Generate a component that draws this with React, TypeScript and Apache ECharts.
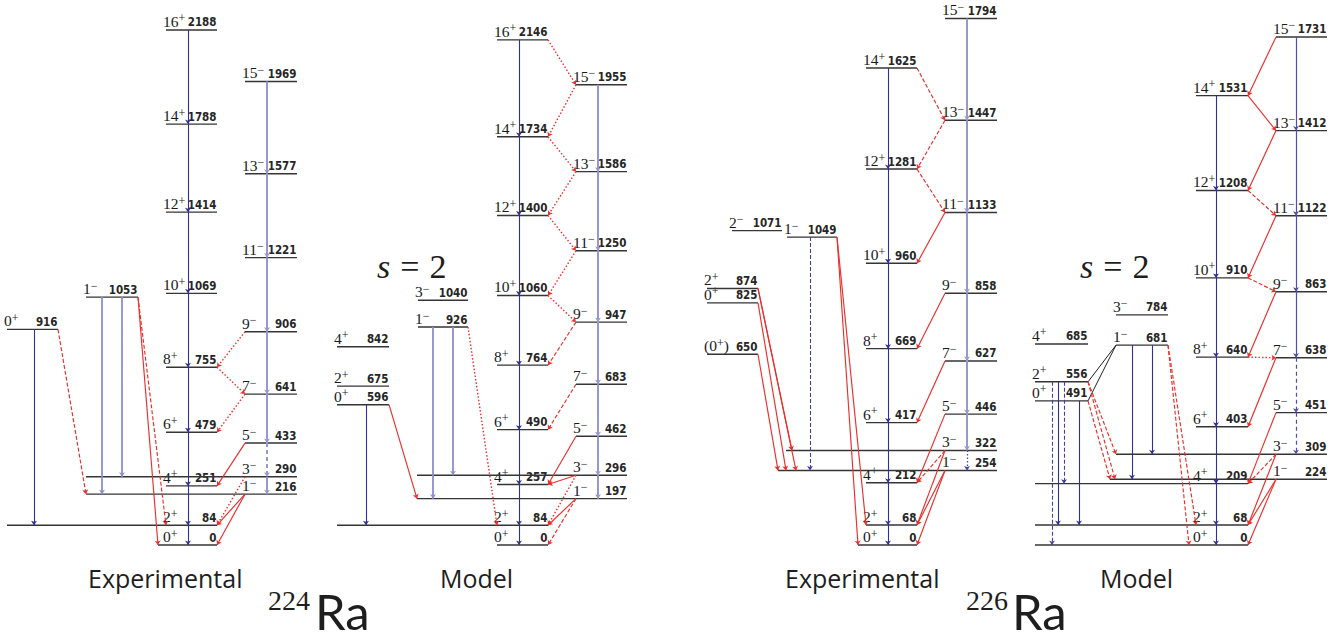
import React, { useEffect, useRef } from 'react';
import * as echarts from 'echarts';

// [spin/parity, energy in keV, column]
type Level = [string, number, string];
// [from energy, to energy, transition kind]
type Transition = [number, number, string];

// ---------- 224Ra, experimental ----------
const RA224_EXP_LEVELS: Level[] = [
  ['0+', 0, 'g'], ['2+', 84, 'g'], ['4+', 251, 'g'], ['6+', 479, 'g'], ['8+', 755, 'g'],
  ['10+', 1069, 'g'], ['12+', 1414, 'g'], ['14+', 1788, 'g'], ['16+', 2188, 'g'],
  ['1-', 216, 'n'], ['3-', 290, 'n'], ['5-', 433, 'n'], ['7-', 641, 'n'], ['9-', 906, 'n'],
  ['11-', 1221, 'n'], ['13-', 1577, 'n'], ['15-', 1969, 'n'],
  ['0+', 916, 'a'], ['1-', 1053, 'b'],
];
const RA224_EXP_TRANSITIONS: Transition[] = [
  [2188, 1788, 'gsb'], [1788, 1414, 'gsb'], [1414, 1069, 'gsb'], [1069, 755, 'gsb'],
  [755, 479, 'gsb'], [479, 251, 'gsb'], [251, 84, 'gsb'], [84, 0, 'gsb'],
  [1969, 1577, 'neg'], [1577, 1221, 'neg'], [1221, 906, 'neg'], [906, 641, 'neg'],
  [641, 433, 'neg'], [433, 290, 'negDash'], [290, 216, 'neg'],
  [916, 84, 'vDark'], [1053, 216, 'vLight'], [1053, 290, 'vLight'],
  [916, 216, 'redDash'], [1053, 0, 'red'], [1053, 84, 'redDash'],
  [906, 755, 'redDot'], [755, 641, 'redDot'], [641, 479, 'redDot'], [433, 251, 'red'],
  [290, 84, 'redDot'], [216, 84, 'red'], [216, 0, 'red'],
];

// ---------- 224Ra, model ----------
const RA224_MODEL_LEVELS: Level[] = [
  ['0+', 0, 'g'], ['2+', 84, 'g'], ['4+', 257, 'g'], ['6+', 490, 'g'], ['8+', 764, 'g'],
  ['10+', 1060, 'g'], ['12+', 1400, 'g'], ['14+', 1734, 'g'], ['16+', 2146, 'g'],
  ['1-', 197, 'n'], ['3-', 296, 'n'], ['5-', 462, 'n'], ['7-', 683, 'n'], ['9-', 947, 'n'],
  ['11-', 1250, 'n'], ['13-', 1586, 'n'], ['15-', 1955, 'n'],
  ['0+', 596, 'a'], ['2+', 675, 'a'], ['4+', 842, 'a'], ['1-', 926, 'b'], ['3-', 1040, 'b'],
];
const RA224_MODEL_TRANSITIONS: Transition[] = [
  [2146, 1734, 'gsb'], [1734, 1400, 'gsb'], [1400, 1060, 'gsb'], [1060, 764, 'gsb'],
  [764, 490, 'gsb'], [490, 257, 'gsb'], [257, 84, 'gsb'], [84, 0, 'gsb'],
  [1955, 1586, 'neg'], [1586, 1250, 'neg'], [1250, 947, 'neg'], [947, 683, 'neg'],
  [683, 462, 'neg'], [462, 296, 'neg'], [296, 197, 'neg'],
  [596, 84, 'vDark'], [926, 197, 'vLight'], [926, 296, 'vLight'],
  [596, 197, 'red'], [926, 84, 'redDot'],
  [2146, 1955, 'redDot'], [1955, 1734, 'redDot'], [1734, 1586, 'redDot'], [1586, 1400, 'redDot'],
  [1400, 1250, 'redDot'], [1250, 1060, 'redDot'], [1060, 947, 'redDot'], [947, 764, 'redDash'],
  [683, 490, 'redDash'], [462, 257, 'red'], [296, 257, 'red'], [296, 84, 'redDot'],
  [197, 84, 'red'], [197, 0, 'redDash'],
];

// ---------- 226Ra, experimental ----------
const RA226_EXP_LEVELS: Level[] = [
  ['0+', 0, 'g'], ['2+', 68, 'g'], ['4+', 212, 'g'], ['6+', 417, 'g'], ['8+', 669, 'g'],
  ['10+', 960, 'g'], ['12+', 1281, 'g'], ['14+', 1625, 'g'],
  ['1-', 254, 'n'], ['3-', 322, 'n'], ['5-', 446, 'n'], ['7-', 627, 'n'], ['9-', 858, 'n'],
  ['11-', 1133, 'n'], ['13-', 1447, 'n'], ['15-', 1794, 'n'],
  ['(0+)', 650, 'a'], ['0+', 825, 'a'], ['2+', 874, 'a'], ['2-', 1071, 'c'], ['1-', 1049, 'b'],
];
const RA226_EXP_TRANSITIONS: Transition[] = [
  [1625, 1281, 'gsb'], [1281, 960, 'gsb'], [960, 669, 'gsb'], [669, 417, 'gsb'],
  [417, 212, 'gsb'], [212, 68, 'gsb'], [68, 0, 'gsb'],
  [1794, 1447, 'neg'], [1447, 1133, 'neg'], [1133, 858, 'neg'], [858, 627, 'neg'],
  [627, 446, 'neg'], [446, 322, 'neg'], [322, 254, 'negDot'],
  [1049, 254, 'vDash'],
  [650, 254, 'red'], [825, 254, 'red'], [874, 322, 'red'], [874, 254, 'red'],
  [1049, 0, 'red'], [1049, 68, 'red'],
  [1625, 1447, 'redDash'], [1447, 1281, 'redDash'], [1281, 1133, 'redDash'], [1133, 960, 'red'],
  [858, 669, 'red'], [627, 417, 'red'], [446, 212, 'red'], [322, 212, 'redDash'],
  [322, 68, 'red'], [254, 68, 'red'], [254, 0, 'red'],
];

// ---------- 226Ra, model ----------
const RA226_MODEL_LEVELS: Level[] = [
  ['0+', 0, 'g'], ['2+', 68, 'g'], ['4+', 209, 'g'], ['6+', 403, 'g'], ['8+', 640, 'g'],
  ['10+', 910, 'g'], ['12+', 1208, 'g'], ['14+', 1531, 'g'],
  ['1-', 224, 'n'], ['3-', 309, 'n'], ['5-', 451, 'n'], ['7-', 638, 'n'], ['9-', 863, 'n'],
  ['11-', 1122, 'n'], ['13-', 1412, 'n'], ['15-', 1731, 'n'],
  ['0+', 491, 'a'], ['2+', 556, 'a'], ['4+', 685, 'a'], ['1-', 681, 'b'], ['3-', 784, 'b'],
];
const RA226_MODEL_TRANSITIONS: Transition[] = [
  [1531, 1208, 'gsb'], [1208, 910, 'gsb'], [910, 640, 'gsb'], [640, 403, 'gsb'],
  [403, 209, 'gsb'], [209, 68, 'gsb'], [68, 0, 'gsb'],
  [1731, 1412, 'negD'], [1412, 1122, 'negD'], [1122, 863, 'negD'], [863, 638, 'negD'],
  [638, 451, 'negDDash'], [451, 309, 'negDDash'],
  [556, 0, 'vDash'], [556, 68, 'vDark'], [556, 209, 'vDash'], [491, 68, 'vDark'],
  [681, 224, 'vDark'], [681, 309, 'vDark'],
  [681, 556, 'black'], [681, 491, 'black'],
  [556, 309, 'redDash'], [491, 224, 'redDash'], [556, 224, 'redDash'],
  [681, 0, 'redDash'], [681, 68, 'redDash'],
  [1731, 1531, 'red'], [1531, 1412, 'red'], [1412, 1208, 'red'], [1208, 1122, 'redDash'],
  [1122, 910, 'red'], [910, 863, 'redDash'], [863, 640, 'red'], [640, 638, 'redDot'],
  [638, 403, 'red'], [451, 209, 'red'], [309, 209, 'redDash'], [309, 68, 'red'],
  [224, 68, 'red'], [224, 0, 'red'],
];

// ---------- horizontal layout of each scheme (page pixels) ----------
interface PanelLayout {
  cols: Record<string, [number, number]>;
  lineFrom: Record<number, number>;
  bandX: Record<string, number>;
  vx: Record<string, number>;
  nudge: Record<string, number>;
}

const RA224_EXP_LAYOUT: PanelLayout = {
  cols: { g: [166, 217], n: [245, 297], a: [7, 58], b: [86, 138] },
  lineFrom: { 84: 7, 290: 86, 216: 86, 0: 158 },
  bandX: { g: 188, n: 267 },
  vx: { '916>84': 34, '1053>216': 102, '1053>290': 122 },
  nudge: {},
};
const RA224_MODEL_LAYOUT: PanelLayout = {
  cols: { g: [497, 548], n: [576, 627], a: [337, 389], b: [418, 468] },
  lineFrom: { 84: 337, 296: 417, 197: 417 },
  bandX: { g: 519, n: 598 },
  vx: { '596>84': 366, '926>197': 433, '926>296': 453 },
  nudge: {},
};
const RA226_EXP_LAYOUT: PanelLayout = {
  cols: { g: [866, 917], n: [945, 997], a: [707, 758], c: [732, 782], b: [787, 837] },
  lineFrom: { 322: 786, 254: 778, 0: 858 },
  bandX: { g: 888, n: 967 },
  vx: { '1049>254': 810 },
  nudge: { '825>254': 8, '874>322': 6, '874>254': 18 },
};
const RA226_MODEL_LAYOUT: PanelLayout = {
  cols: { g: [1196, 1248], n: [1276, 1327], a: [1035, 1088], b: [1116, 1168] },
  lineFrom: { 0: 1035, 68: 1035, 209: 1035, 309: 1116, 224: 1110 },
  bandX: { g: 1216, n: 1296 },
  vx: { '556>0': 1052, '556>68': 1058, '556>209': 1064, '491>68': 1079, '681>224': 1132, '681>309': 1152 },
  nudge: { '556>224': 5, '681>0': -7 },
};

const PANELS = [
  { levels: RA224_EXP_LEVELS, transitions: RA224_EXP_TRANSITIONS, layout: RA224_EXP_LAYOUT, axis: 0 },
  { levels: RA224_MODEL_LEVELS, transitions: RA224_MODEL_TRANSITIONS, layout: RA224_MODEL_LAYOUT, axis: 0 },
  { levels: RA226_EXP_LEVELS, transitions: RA226_EXP_TRANSITIONS, layout: RA226_EXP_LAYOUT, axis: 1 },
  { levels: RA226_MODEL_LEVELS, transitions: RA226_MODEL_TRANSITIONS, layout: RA226_MODEL_LAYOUT, axis: 1 },
];

// energy axes: keV range and pixel scale of each nucleus
const ENERGY_MAX = [2200, 1800];
const PX_PER_KEV = [0.2354, 0.2935];
const BASELINE_Y = 545;
const W = 1339;
const H = 641;

const DARK_BLUE = '#30309c';
const LIGHT_BLUE = '#9898d0';
const RED = '#e8302c';

const KIND_STYLES: Record<string, { color: string; width: number; type: any }> = {
  gsb: { color: DARK_BLUE, width: 1.1, type: 'solid' },
  neg: { color: LIGHT_BLUE, width: 2, type: 'solid' },
  negDash: { color: LIGHT_BLUE, width: 2, type: [4, 3] },
  negDot: { color: '#4848b0', width: 1.3, type: [1.5, 2] },
  negD: { color: '#5050ac', width: 1.2, type: 'solid' },
  negDDash: { color: '#5050ac', width: 1.2, type: [4, 3] },
  vDark: { color: DARK_BLUE, width: 1.1, type: 'solid' },
  vLight: { color: '#8e8ecd', width: 1.8, type: 'solid' },
  vDash: { color: '#4040a8', width: 1.1, type: [4, 2] },
  red: { color: RED, width: 1.15, type: 'solid' },
  redDash: { color: RED, width: 1.15, type: [4, 2] },
  redDot: { color: RED, width: 1.4, type: [1.5, 2] },
  black: { color: '#222222', width: 1, type: 'solid' },
};
const BAND_KINDS = new Set(['gsb', 'neg', 'negDash', 'negDot', 'negD', 'negDDash']);
const VERTICAL_KINDS = new Set([...BAND_KINDS, 'vDark', 'vLight', 'vDash']);

function findLevel(levels: Level[], e: number): Level {
  return levels.find((l) => l[1] === e) as Level;
}

function transitionCoords(tr: Transition, levels: Level[], layout: PanelLayout): number[][] {
  const [fe, te, kind] = tr;
  const from = findLevel(levels, fe);
  const to = findLevel(levels, te);
  const key = `${fe}>${te}`;
  if (VERTICAL_KINDS.has(kind)) {
    const x = BAND_KINDS.has(kind) ? layout.bandX[from[2]] : layout.vx[key];
    return [[x, fe], [x, te]];
  }
  const ca = layout.cols[from[2]];
  const cb = layout.cols[to[2]];
  let x1: number;
  let x2: number;
  if (ca[0] + ca[1] < cb[0] + cb[1]) {
    x1 = ca[1];
    const drawnLeft = layout.lineFrom[te] ?? cb[0];
    x2 = drawnLeft >= x1 ? drawnLeft : cb[0];
  } else {
    x1 = ca[0];
    x2 = cb[1];
  }
  x2 += layout.nudge[key] ?? 0;
  return [[x1, fe], [x2, te]];
}

function spinRich(spin: string): string {
  const m = spin.match(/^(\(?)(\d+)([+-])(\)?)$/);
  if (!m) return `{n|${spin}}`;
  const sign = m[3] === '+' ? '+' : '\u2212';
  return `{n|${m[1]}${m[2]}}{s|${sign}}${m[4] ? `{n|${m[4]}}` : ''}`;
}

const SPIN_RICH = {
  n: { fontFamily: '"Liberation Serif", serif', fontSize: 15.5, fill: '#1a1a1a', verticalAlign: 'bottom', lineHeight: 17 },
  s: { fontFamily: '"Liberation Serif", serif', fontSize: 12, fill: '#1a1a1a', verticalAlign: 'top', lineHeight: 11 },
};
const ENERGY_FONT = 'bold 11.5px "DejaVu Sans Condensed", "DejaVu Sans", sans-serif';

function buildOption(): echarts.EChartsCoreOption {
  const grids = ENERGY_MAX.map((max, i) => ({
    left: 0,
    right: 0,
    bottom: H - BASELINE_Y,
    top: BASELINE_Y - max * PX_PER_KEV[i],
    show: false,
  }));
  const xAxes = grids.map((_, i) => ({ type: 'value', gridIndex: i, min: 0, max: W, show: false }));
  const yAxes = grids.map((_, i) => ({ type: 'value', gridIndex: i, min: 0, max: ENERGY_MAX[i], show: false }));

  const series: any[] = [];
  PANELS.forEach((panel) => {
    const { levels, transitions, layout, axis } = panel;
    const rows = levels.map((l) => {
      const col = layout.cols[l[2]];
      return { spin: l[0], e: l[1], c0: col[0], x0: layout.lineFrom[l[1]] ?? col[0], x1: col[1] };
    });
    series.push({
      type: 'custom',
      xAxisIndex: axis,
      yAxisIndex: axis,
      silent: true,
      clip: false,
      data: rows.map((r) => [r.x0, r.e, r.x1]),
      encode: { x: [0, 2], y: 1 },
      renderItem: (params: any, api: any) => {
        const r = rows[params.dataIndex];
        const p0 = api.coord([r.x0, r.e]);
        const p1 = api.coord([r.x1, r.e]);
        const pl = api.coord([r.c0, r.e]);
        return {
          type: 'group',
          children: [
            {
              type: 'line',
              shape: { x1: p0[0], y1: p0[1], x2: p1[0], y2: p1[1] },
              style: { stroke: '#353535', lineWidth: 1.4 },
            },
            {
              type: 'text',
              x: pl[0] - 3,
              y: p0[1] - 0.5,
              style: { text: spinRich(r.spin), rich: SPIN_RICH, align: 'left', verticalAlign: 'bottom' },
            },
            {
              type: 'text',
              x: p1[0] - 0.5,
              y: p0[1] - 1.5,
              style: { text: String(r.e), font: ENERGY_FONT, fill: '#262626', align: 'right', verticalAlign: 'bottom' },
            },
          ],
        };
      },
    });

    const byKind: Record<string, any[]> = {};
    transitions.forEach((tr) => {
      (byKind[tr[2]] = byKind[tr[2]] || []).push({ coords: transitionCoords(tr, levels, layout) });
    });
    Object.keys(byKind).forEach((kind) => {
      const st = KIND_STYLES[kind];
      series.push({
        type: 'lines',
        coordinateSystem: 'cartesian2d',
        xAxisIndex: axis,
        yAxisIndex: axis,
        silent: true,
        symbol: ['none', 'arrow'],
        symbolSize: kind === 'black' ? 0 : 4.5,
        lineStyle: { color: st.color, width: st.width, type: st.type, opacity: 1 },
        data: byKind[kind],
      });
    });
  });

  const sansTitle = '"Open Sans", "DejaVu Sans", sans-serif';
  const sansNucleus = 'Lato, "Open Sans", sans-serif';
  const serif = '"Liberation Serif", serif';
  const graphic: any[] = [
    { type: 'text', x: 88, y: 578, style: { text: 'Experimental', font: `25px ${sansTitle}`, fill: '#1e1e1e', verticalAlign: 'middle' } },
    { type: 'text', x: 440, y: 578, style: { text: 'Model', font: `25px ${sansTitle}`, fill: '#1e1e1e', verticalAlign: 'middle' } },
    { type: 'text', x: 785, y: 578, style: { text: 'Experimental', font: `25px ${sansTitle}`, fill: '#1e1e1e', verticalAlign: 'middle' } },
    { type: 'text', x: 1100, y: 578, style: { text: 'Model', font: `25px ${sansTitle}`, fill: '#1e1e1e', verticalAlign: 'middle' } },
    { type: 'text', x: 268, y: 600, style: { text: '224', font: `28px ${serif}`, fill: '#1e1e1e', verticalAlign: 'middle' } },
    { type: 'text', x: 315, y: 635, style: { text: 'Ra', font: `49px ${sansNucleus}`, fill: '#1e1e1e', verticalAlign: 'bottom', lineHeight: 49 } },
    { type: 'text', x: 966, y: 600, style: { text: '226', font: `28px ${serif}`, fill: '#1e1e1e', verticalAlign: 'middle' } },
    { type: 'text', x: 1012, y: 635, style: { text: 'Ra', font: `49px ${sansNucleus}`, fill: '#1e1e1e', verticalAlign: 'bottom', lineHeight: 49 } },
  ];
  [377, 1080].forEach((x) => {
    graphic.push({
      type: 'text',
      x,
      y: 266,
      style: {
        text: '{i|s}{e|=}{r|2}',
        verticalAlign: 'middle',
        rich: {
          i: { fontFamily: serif, fontStyle: 'italic', fontSize: 34, fill: '#1e1e1e' },
          e: { fontFamily: serif, fontSize: 34, fill: '#1e1e1e', padding: [0, 10, 0, 10] },
          r: { fontFamily: serif, fontSize: 34, fill: '#1e1e1e' },
        },
      },
    });
  });

  return {
    animation: false,
    backgroundColor: '#ffffff',
    grid: grids,
    xAxis: xAxes,
    yAxis: yAxes,
    series,
    graphic,
  };
}

export default function App() {
  const ref = useRef<HTMLDivElement>(null);
  useEffect(() => {
    if (!ref.current) return;
    const chart = echarts.init(ref.current, undefined, { renderer: 'svg' });
    chart.setOption(buildOption());
    return () => chart.dispose();
  }, []);
  return <div ref={ref} style={{ position: 'absolute', left: 0, top: 0, width: W, height: H }} />;
}
